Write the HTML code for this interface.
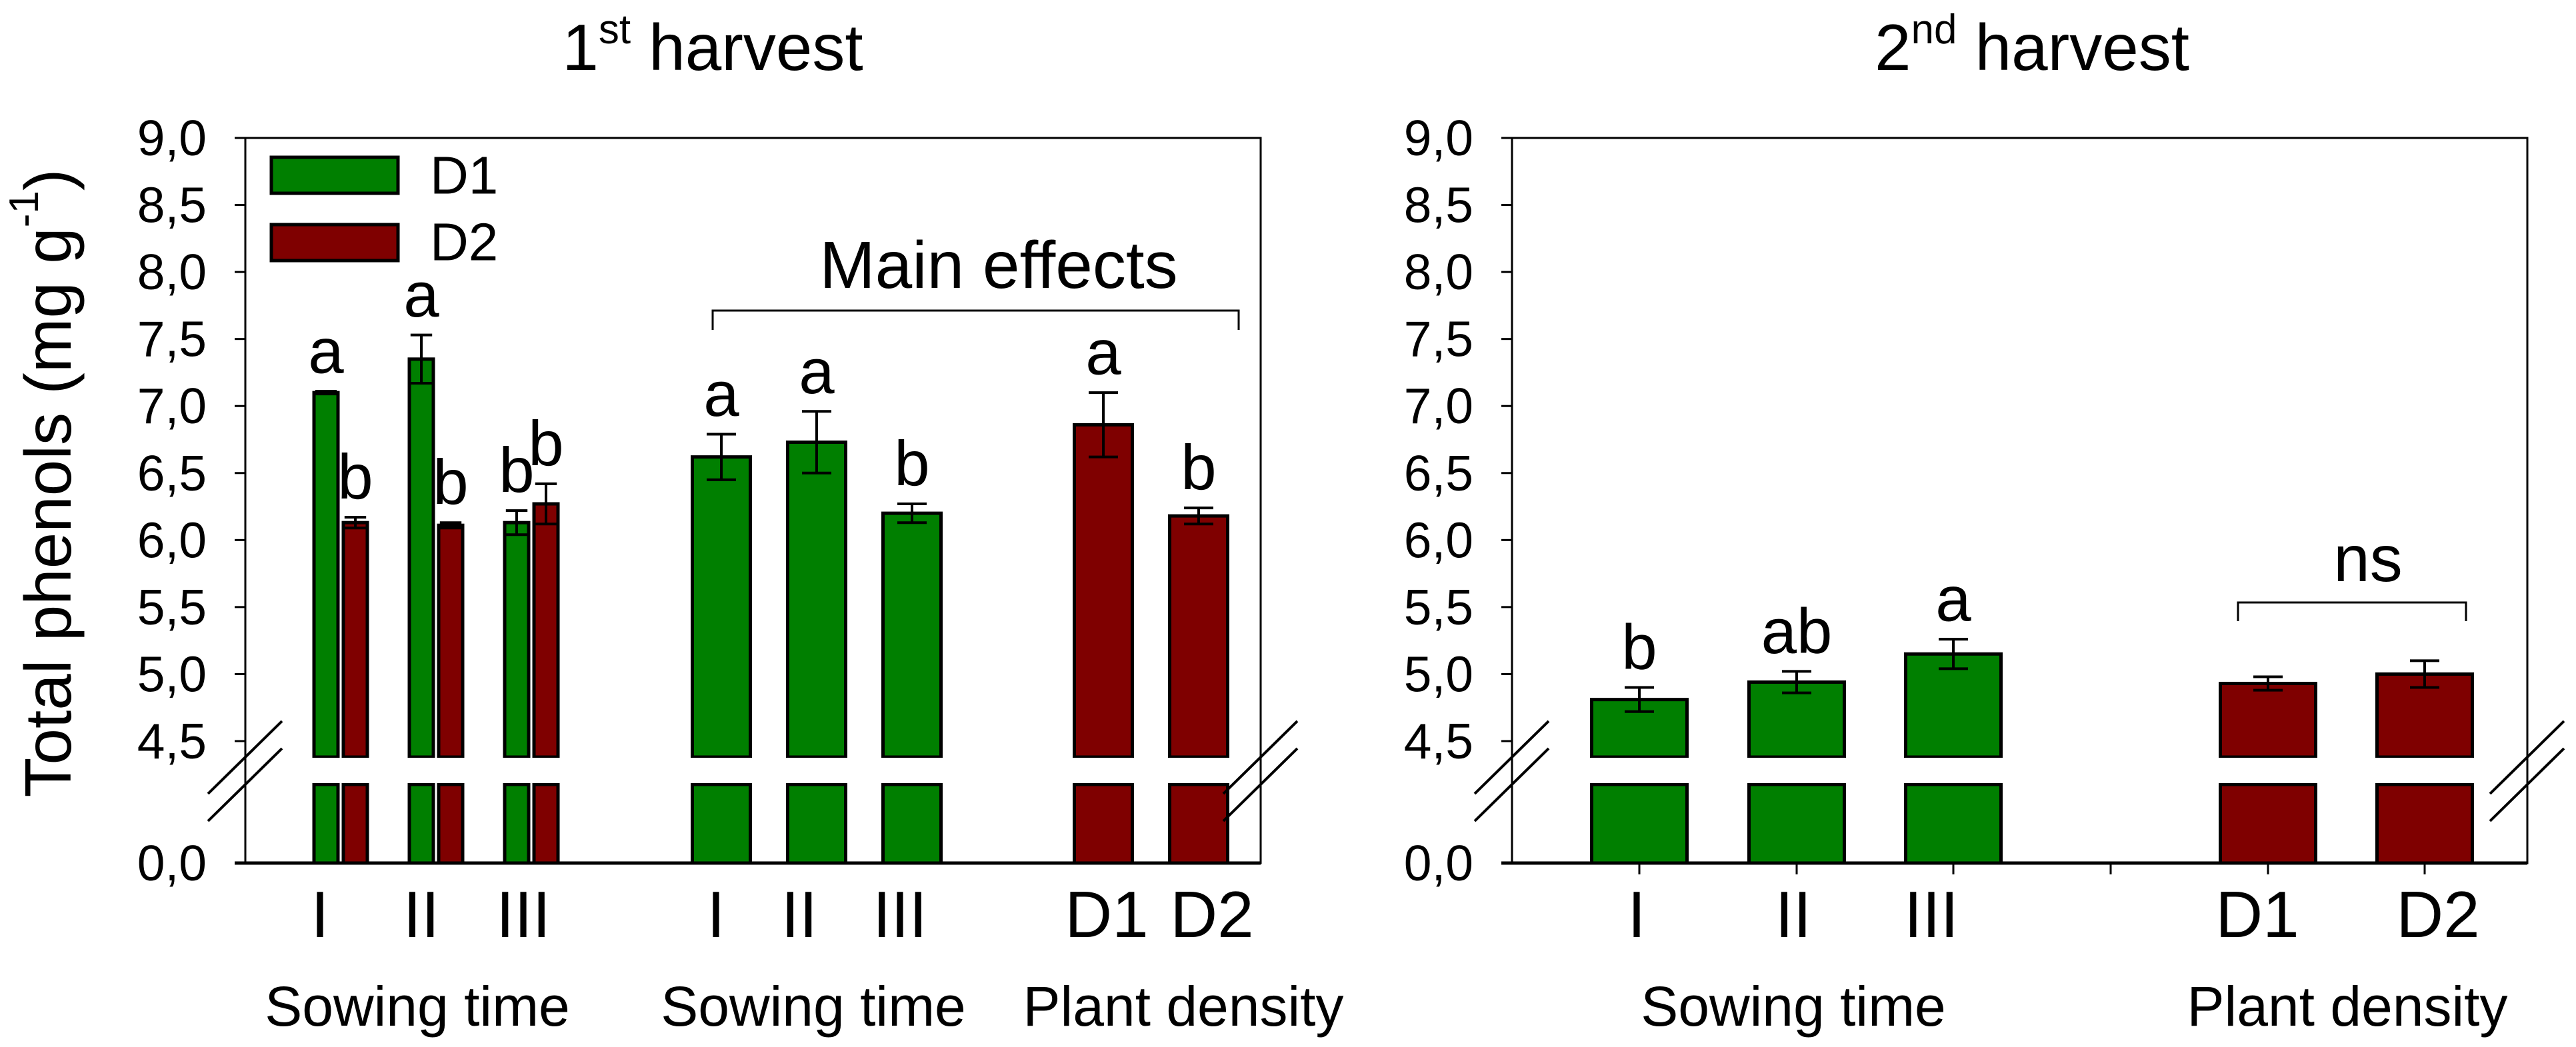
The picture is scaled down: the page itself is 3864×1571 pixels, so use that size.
<!DOCTYPE html>
<html><head><meta charset="utf-8"><style>
html,body{margin:0;padding:0;background:#fff;}
svg{display:block;font-family:"Liberation Sans",Arial,sans-serif;}
</style></head><body>
<svg id="c" width="3864" height="1571" viewBox="0 0 3864 1571" xmlns="http://www.w3.org/2000/svg"></svg>
<script>
// ---- data ----
const yTicks = [9.0, 8.5, 8.0, 7.5, 7.0, 6.5, 6.0, 5.5, 5.0, 4.5];
const yTickLabels = ["9,0","8,5","8,0","7,5","7,0","6,5","6,0","5,5","5,0","4,5"];
// panel 1 interaction bars (sowing time x density)
const p1Cats = ["I","II","III"];
const p1D1 = [7.10, 7.35, 6.13];
const p1D1Err = [0.01, 0.18, 0.09];
const p1D1Let = ["a","a","b"];
const p1D2 = [6.13, 6.11, 6.27];
const p1D2Err = [0.04, 0.02, 0.15];
const p1D2Let = ["b","b","b"];
// panel 1 main effects
const p1MainCats = ["I","II","III","D1","D2"];
const p1Main = [6.62, 6.73, 6.20, 6.86, 6.18];
const p1MainErr = [0.17, 0.23, 0.07, 0.24, 0.06];
const p1MainLet = ["a","a","b","a","b"];
const p1MainSeries = ["D1","D1","D1","D2","D2"];
// panel 2
const p2Cats = ["I","II","III","D1","D2"];
const p2Vals = [4.81, 4.94, 5.15, 4.93, 5.00];
const p2Err = [0.09, 0.08, 0.11, 0.05, 0.10];
const p2Let = ["b","ab","a","",""];
const p2Series = ["D1","D1","D1","D2","D2"];

const NS="http://www.w3.org/2000/svg";
const svg=document.getElementById('c');
const GREEN="#007f00", RED="#7f0000";
function el(tag,attrs,parent){const e=document.createElementNS(NS,tag);for(const k in attrs)e.setAttribute(k,attrs[k]);(parent||svg).appendChild(e);return e;}
function txt(s,x,y,size,anchor,parent){const t=el('text',{x:x,y:y,'font-size':size,'text-anchor':anchor||'middle','dominant-baseline':'central',fill:'#000'},parent);t.textContent=s;return t;}

const yTop=207, y45=1112, gapTop=1136, gapBot=1177, yZero=1295;
function yScale(v){return y45-(v-4.5)*(y45-yTop)/4.5;}

function panel(x0,x1,name){
  const g=el('g',{});
  
  
  el('rect',{x:x0,y:yTop,width:x1-x0,height:yZero-yTop,fill:'none',stroke:'#000','stroke-width':3},g);
  el('line',{x1:x0-16,y1:yZero,x2:x1,y2:yZero,stroke:'#000','stroke-width':5},g);
  const yg=el('g',{},g);
  
  
  yTicks.forEach((v,i)=>{
    const y=yScale(v);
    el('line',{x1:x0-16,y1:y,x2:x0,y2:y,stroke:'#000','stroke-width':3},yg);
    const t=txt(yTickLabels[i],x0-58,y,75,'end',yg);
    
    
  });
  const z=txt("0,0",x0-58,yZero,75,'end',yg);
  
  
  return g;
}
function breakMark(cx,g){
  const b=el('g',{},g);
  
  
  el('line',{x1:cx-56,y1:1191,x2:cx+55,y2:1082,stroke:'#000','stroke-width':4},b);
  el('line',{x1:cx-56,y1:1232,x2:cx+55,y2:1123,stroke:'#000','stroke-width':4},b);
}
function bar(cx,w,v,err,color,letter,letterSize,g,name){
  const b=el('g',{},g);
  
  
  const y=yScale(v);
  el('rect',{x:cx-w/2,y:y,width:w,height:gapTop-y,fill:color,stroke:'#000','stroke-width':5},b);
  el('rect',{x:cx-w/2-4,y:gapTop+1,width:w+8,height:12,fill:'#fff'},b);
  el('rect',{x:cx-w/2,y:gapBot,width:w,height:yZero-gapBot,fill:color,stroke:'#000','stroke-width':5},b);
  el('rect',{x:cx-w/2-4,y:gapBot-14,width:w+8,height:12,fill:'#fff'},b);
  const yt=yScale(v+err), yb=yScale(v-err), cap=Math.min(w*0.45,22);
  el('line',{x1:cx,y1:yt,x2:cx,y2:yb,stroke:'#000','stroke-width':4},b);
  el('line',{x1:cx-cap,y1:yt,x2:cx+cap,y2:yt,stroke:'#000','stroke-width':4},b);
  el('line',{x1:cx-cap,y1:yb,x2:cx+cap,y2:yb,stroke:'#000','stroke-width':4},b);
  if(letter){const t=txt(letter,cx,yt-60,letterSize,'middle',b);
    
    }
}

// ---------- Panel 1 ----------
const P1x0=368,P1x1=1891;
const g1=panel(P1x0,P1x1,'panel-1st-harvest');
const grpCenters=[511,654,797];
p1Cats.forEach((c,i)=>{
  bar(grpCenters[i]-22,36,p1D1[i],p1D1Err[i],GREEN,p1D1Let[i],96,g1,'bar-d1-'+c);
  bar(grpCenters[i]+22,36,p1D2[i],p1D2Err[i],RED,p1D2Let[i],96,g1,'bar-d2-'+c);
});
const mainCenters=[1082,1225,1368,1655,1798];
p1MainCats.forEach((c,i)=>{
  bar(mainCenters[i],87,p1Main[i],p1MainErr[i],p1MainSeries[i]==="D1"?GREEN:RED,p1MainLet[i],96,g1,'bar-main-'+c);
});
breakMark(P1x0,g1); breakMark(P1x1,g1);
const lab1x=[480,632,785,1074,1199,1350,1660,1818];
const lab1=["I","II","III","I","II","III","D1","D2"];
lab1.forEach((s,i)=>{const t=txt(s,lab1x[i],1372,98,'middle',g1);
  
  });
[["Sowing time",626],["Sowing time",1220],["Plant density",1775]].forEach(a=>{
  const t=txt(a[0],a[1],1510,84,'middle',g1);
  
  });
// legend
const lg=el('g',{},g1);


el('rect',{x:407,y:236,width:190,height:54,fill:GREEN,stroke:'#000','stroke-width':5},lg);
el('rect',{x:407,y:337,width:190,height:54,fill:RED,stroke:'#000','stroke-width':5},lg);
txt("D1",645,263,80,'start',lg);
txt("D2",645,363,80,'start',lg);
// main effects bracket
const me=el('g',{},g1);


el('polyline',{points:'1069,495 1069,466 1858,466 1858,495',fill:'none',stroke:'#000','stroke-width':3},me);
txt("Main effects",1498,398,100,'middle',me);
// title
const t1=el('text',{x:1069,y:105,'font-size':98,'text-anchor':'middle',fill:'#000'});


t1.innerHTML='1<tspan font-size="62" dy="-40">st</tspan><tspan dy="40"> harvest</tspan>';
// y axis title
const yt=el('text',{x:0,y:0,'font-size':98,'text-anchor':'middle','dominant-baseline':'central',fill:'#000',transform:'translate(72,725) rotate(-90)'});


yt.innerHTML='Total phenols (mg g<tspan font-size="62" dy="-36">-1</tspan><tspan dy="36">)</tspan>';

// ---------- Panel 2 ----------
const P2x0=2268,P2x1=3791;
const g2=panel(P2x0,P2x1,'panel-2nd-harvest');
const p2Centers=[2459,2695,2930,3402,3637];
p2Cats.forEach((c,i)=>{
  bar(p2Centers[i],143,p2Vals[i],p2Err[i],p2Series[i]==="D1"?GREEN:RED,p2Let[i],96,g2,'bar-2nd-'+c);
});
[2459,2695,2930,3166,3402,3637].forEach(x=>{
  const l=el('line',{x1:x,y1:yZero,x2:x,y2:1312,stroke:'#000','stroke-width':3},g2);
  
  
});
breakMark(P2x0,g2); breakMark(P2x1,g2);
const lab2x=[2455,2690,2897,3386,3657];
p2Cats.forEach((s,i)=>{const t=txt(s,lab2x[i],1372,98,'middle',g2);
  
  });
[["Sowing time",2690],["Plant density",3521]].forEach(a=>{
  const t=txt(a[0],a[1],1510,84,'middle',g2);
  
  });
const ns=el('g',{},g2);


el('polyline',{points:'3357,932 3357,904 3699,904 3699,932',fill:'none',stroke:'#000','stroke-width':3},ns);
txt("ns",3552,838,98,'middle',ns);
const t2=el('text',{x:3048,y:105,'font-size':98,'text-anchor':'middle',fill:'#000'});


t2.innerHTML='2<tspan font-size="62" dy="-40">nd</tspan><tspan dy="40"> harvest</tspan>';
</script>
</body></html>
